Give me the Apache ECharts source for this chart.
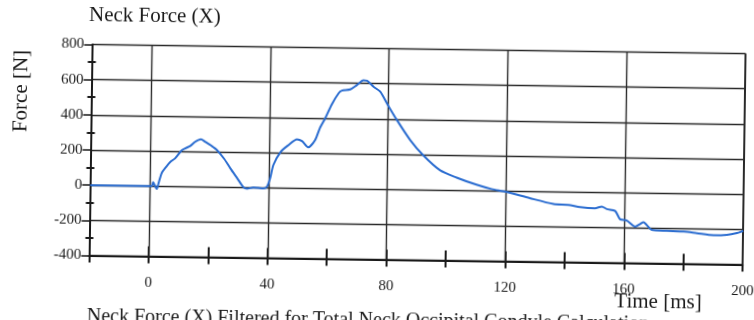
<!DOCTYPE html>
<html>
<head>
<meta charset="utf-8">
<script src="https://cdn.jsdelivr.net/npm/echarts@6/dist/echarts.min.js"></script>
<style>
html,body{margin:0;padding:0;background:#fff;width:754px;height:320px;overflow:hidden;position:relative;}
#chart{position:absolute;left:-13px;top:-10px;width:780px;height:340px;transform:rotate(0.8deg);}
</style>
</head>
<body>
<div id="chart"></div>
<script>
// Time [ms]
const times = [-20, -10, 0, 0.8, 1.2, 1.7, 2.4, 3.0, 4.0, 5.5, 6.9, 8.5, 10.7, 12, 13.5, 15.2, 17.1, 18.5, 20.5, 22.5, 25, 27.1, 29.5, 31.6, 32.8, 34.9, 36.5, 38.3, 39.5, 40.5, 41.6, 44, 46.6, 49.4, 51.1, 53.2, 55.5, 57, 58.8, 61, 63.2, 64.3, 67.1, 69.3, 71.5, 72.7, 74.9, 77.2, 79.5, 82.9, 87.5, 92, 97.7, 103.3, 110, 115, 120, 128, 136, 141, 145, 150, 152.3, 154, 156.8, 158.5, 160.8, 163.6, 165.3, 166.4, 167.5, 169.2, 174.3, 180, 184.4, 190, 194.5, 197.9, 199.6, 200];
// Neck force X [N]
const forces = [0, 0, 0, 0, 22, 5, -17, 15, 73, 110, 139, 159, 205, 218, 230, 255, 270, 256, 235, 210, 160, 107, 50, 0, -8, 0, -2, -5, 5, 50, 130, 205, 244, 277, 267, 232, 274, 340, 399, 480, 542, 557, 565, 590, 617, 615, 582, 554, 488, 395, 282, 195, 112, 72, 33, 10, -5, -39, -70, -74, -86, -91, -81, -95, -105, -152, -159, -192, -177, -167, -182, -210, -214, -217, -225, -235, -232, -221, -211, -208];
const xGridValues = [0, 40, 80, 120, 160, 200];
const xLabelValues = [0, 40, 80, 120, 160, 200];
const titleText = 'Neck Force (X)';
const yName = 'Force [N]';
const xName = 'Time [ms]';
const captionText = 'Neck Force (X) Filtered for Total Neck Occipital Condyle Calculation';

const FONT = 'Liberation Serif';
const INK = '#1a1a1a';
const chart = echarts.init(document.getElementById('chart'), null, {renderer: 'canvas'});
const seriesData = times.map((t, i) => [t, forces[i]]);

chart.setOption({
  animation: false,
  backgroundColor: '#ffffff',
  grid: {left: 103.5, right: 22.8, top: 58.4, bottom: 70.5, containLabel: false},
  xAxis: [{
    type: 'value', position: 'bottom', min: -20, max: 200, interval: 20,
    axisLine: {show: true, onZero: false, lineStyle: {color: INK, width: 2}},
    axisTick: {show: true, inside: false, length: 7, lineStyle: {color: INK, width: 2}},
    axisLabel: {show: true, margin: 19, fontFamily: FONT, fontSize: 15, color: INK,
      formatter: v => xLabelValues.indexOf(v) >= 0 ? String(v) : ''},
    splitLine: {show: false}
  }, {
    type: 'value', position: 'bottom', min: -20, max: 200, interval: 20,
    axisLine: {show: false, onZero: false},
    axisTick: {show: true, inside: true, length: 10, lineStyle: {color: INK, width: 2}},
    axisLabel: {show: false},
    splitLine: {show: false}
  }],
  yAxis: [{
    type: 'value', position: 'left', min: -400, max: 800, interval: 200,
    axisLine: {show: true, onZero: false, lineStyle: {color: INK, width: 2}},
    axisTick: {show: true, inside: false, length: 8, lineStyle: {color: INK, width: 1.5}},
    minorTick: {show: true, splitNumber: 2, length: 4, lineStyle: {color: INK, width: 2}},
    axisLabel: {show: true, margin: 8, fontFamily: FONT, fontSize: 15, color: INK},
    splitLine: {show: true, lineStyle: {color: '#2a2a2a', width: 1.4}}
  }, {
    type: 'value', position: 'left', min: -400, max: 800, interval: 200,
    axisLine: {show: false, onZero: false},
    axisTick: {show: false, inside: true},
    minorTick: {show: true, splitNumber: 2, length: 4, lineStyle: {color: INK, width: 2}},
    axisLabel: {show: false},
    splitLine: {show: false}
  }],
  series: [{
    type: 'line',
    xAxisIndex: 0, yAxisIndex: 0,
    data: seriesData,
    showSymbol: false,
    smooth: 0.25,
    lineStyle: {color: '#2a6cd0', width: 2},
    z: 5,
    markLine: {
      silent: true, symbol: 'none', label: {show: false},
      lineStyle: {color: '#2a2a2a', width: 1.4, type: 'solid'},
      data: xGridValues.map(v => ({xAxis: v, lineStyle: {width: v === 200 ? 2 : 1.4}}))
    }
  }],
  graphic: [
    {type: 'text', left: 100, top: 19, style: {text: titleText, font: '21px "' + FONT + '"', fill: INK}},
    {type: 'text', x: 33, y: 106, rotation: Math.PI / 2,
      style: {text: yName, font: '21px "' + FONT + '"', fill: INK, align: 'center', verticalAlign: 'middle'}},
    {type: 'text', x: 673, y: 308,
      style: {text: xName, font: '21px "' + FONT + '"', fill: INK, align: 'center', verticalAlign: 'middle'}},
    {type: 'text', x: 102, y: 330.5,
      style: {text: captionText, font: '20px "' + FONT + '"', fill: INK, align: 'left', verticalAlign: 'middle'}}
  ]
});
</script>
</body>
</html>
